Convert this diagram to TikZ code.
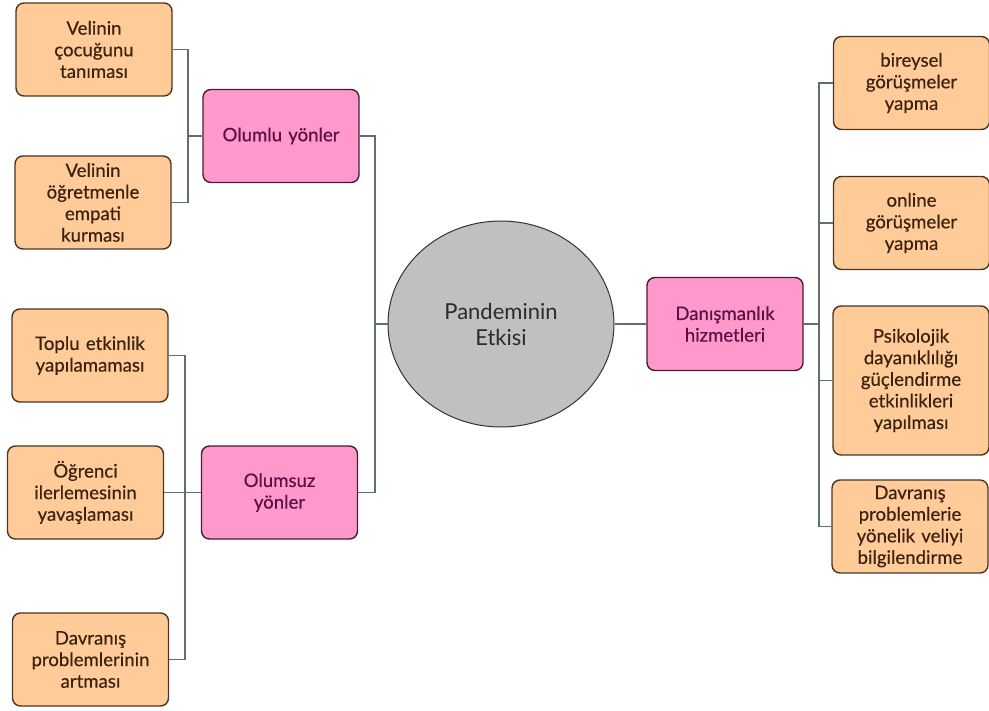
\documentclass[tikz,border=0pt]{standalone}
\usepackage{fontspec}
\setmainfont{Lato}
\newfontfamily\boxfont{Lato}[FakeBold=0.4]
\usepackage{tikz}
\usetikzlibrary{shapes.geometric}
\definecolor{peach}{HTML}{FFCC99}
\definecolor{peachline}{HTML}{4A3522}
\definecolor{peachtext}{HTML}{3B2210}
\definecolor{rose}{HTML}{FF99CC}
\definecolor{roseline}{HTML}{4A1A3A}
\definecolor{rosetext}{HTML}{5B0F45}
\definecolor{hub}{HTML}{C0C0C0}
\definecolor{hubtext}{HTML}{2A2A2A}
\definecolor{wire}{HTML}{5F6F6F}

\begin{document}
\begin{tikzpicture}[x=0.5pt,y=-0.5pt]
    \tikzstyle{o} = [draw=peachline,fill=peach,text=peachtext,rounded corners=4pt,line width=0.7pt,
                     align=center,text width=72pt,inner sep=2pt,minimum width=78pt,minimum height=46.5pt,
                     font=\boxfont\fontsize{9.3}{10.8}\selectfont]
    \tikzstyle{p} = [o,draw=roseline,fill=rose,text=rosetext]
    \tikzstyle{c} = [ellipse,draw=black!80,fill=hub,text=hubtext,line width=0.5pt,align=center,
                     minimum width=113pt,minimum height=103pt,font=\fontsize{11}{13}\selectfont]
    \tikzstyle{w} = [draw=wire,line width=0.65pt]
    \useasboundingbox (0,0) rectangle (989,711);
    % centre
    \node [c] (pan) at (501,324) {Pandeminin\\Etkisi};
    % left, upper
    \node [p] (olumlu) at (281,136) {Olumlu yönler};
    \node [o] (tani) at (94,49.5) {Velinin\\çocuğunu\\tanıması};
    \node [o] (empati) at (93,202.5) {Velinin\\öğretmenle\\empati\\kurması};
    % left, lower
    \node [p] (olumsuz) at (279.5,492.5) {Olumsuz\\yönler};
    \node [o] (toplu) at (90,355.5) {Toplu etkinlik\\yapılamaması};
    \node [o] (ilerle) at (85.5,492.5) {Öğrenci\\ilerlemesinin\\yavaşlaması};
    \node [o] (artma) at (90.5,659.5) {Davranış\\problemlerinin\\artması};
    % right
    \node [p] (danis) at (725,324) {Danışmanlık\\hizmetleri};
    \node [o] (bir) at (911.5,83) {bireysel\\görüşmeler\\yapma};
    \node [o] (onl) at (911.5,223) {online\\görüşmeler\\yapma};
    \node [o,minimum height=74.5pt] (psi) at (911,380.5) {Psikolojik\\dayanıklılığı\\güçlendirme\\etkinlikleri\\yapılması};
    \node [o] (veli) at (910,526.5) {Davranış\\problemlerie\\yönelik veliyi\\bilgilendirme};
    % junctions
    \coordinate (jc) at (375,324);
    \coordinate (ju) at (188,136);
    \coordinate (jl) at (185,492.5);
    \coordinate (jr) at (819,324);
    \path [w] (olumlu.east) -| (jc);
    \path [w] (olumsuz.east) -| (jc);
    \path [w] (jc) -- (pan.west);
    \path [w] (olumlu.west) -- (ju);
    \path [w] (tani.east) -| (ju);
    \path [w] (empati.east) -| (ju);
    \path [w] (olumsuz.west) -- (jl);
    \path [w] (ilerle.east) -- (jl);
    \path [w] (toplu.east) -| (jl);
    \path [w] (artma.east) -| (jl);
    \path [w] (pan.east) -- (danis.west);
    \path [w] (danis.east) -- (jr);
    \path [w] (jr) |- (bir.west);
    \path [w] (jr) |- (onl.west);
    \path [w] (jr) |- (psi.west);
    \path [w] (jr) |- (veli.west);
\end{tikzpicture}
\end{document}
